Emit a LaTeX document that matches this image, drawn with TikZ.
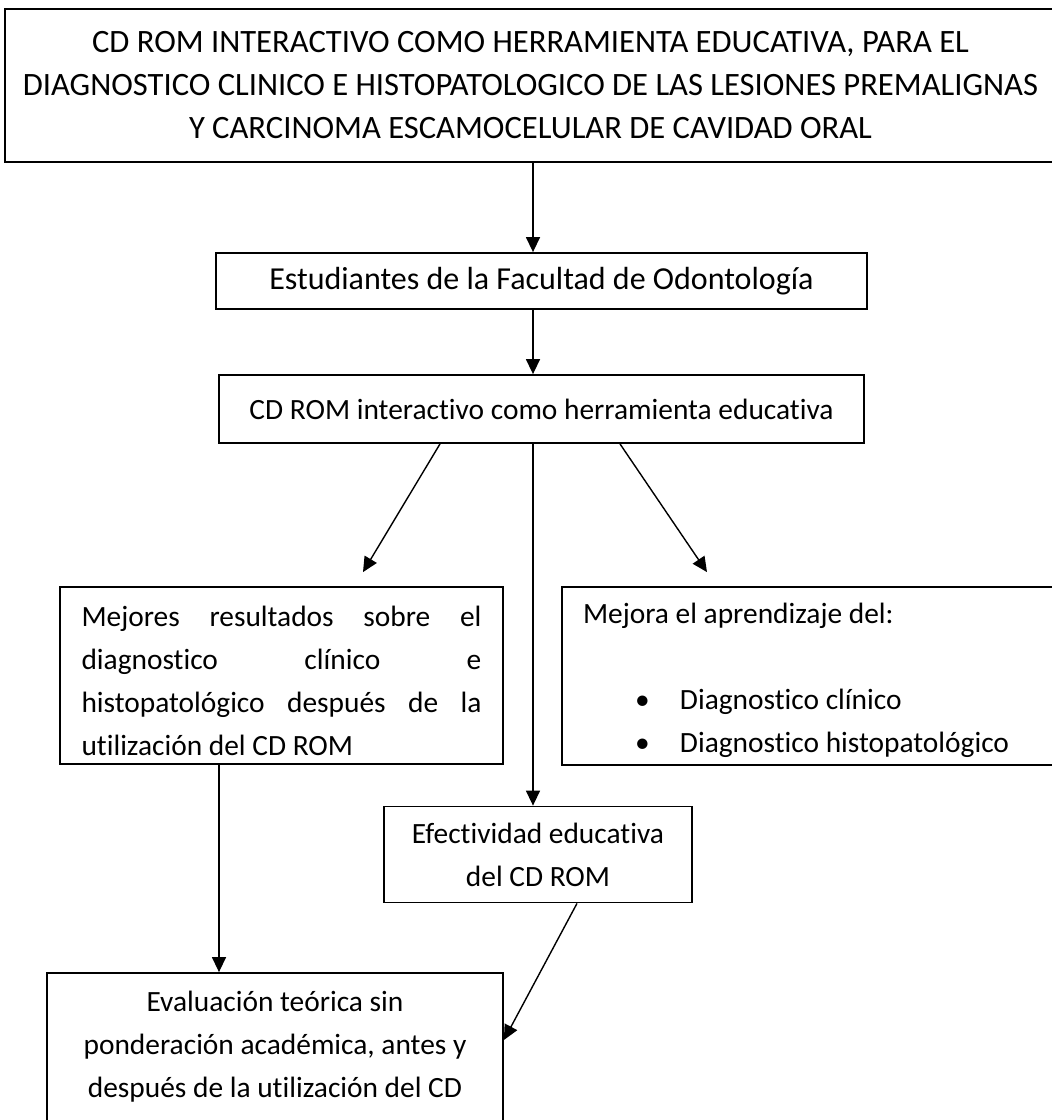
\documentclass[tikz,border=0pt]{standalone}
\usepackage{fontspec}
\setmainfont{Carlito}[Ligatures=NoCommon]
\usetikzlibrary{arrows.meta,calc}
\begin{document}
\begin{tikzpicture}[x=1pt, y=-1pt,
  caja/.style={draw, line width=1.8pt, inner sep=0pt, font=\fontsize{29.4}{43}\selectfont},
  flecha/.style={line width=1.4pt, -{Triangle[length=15pt,width=14pt]}}]
\useasboundingbox (0,0) rectangle (1052,1120);
\coordinate (eje) at (533,0);
% titulo
\node[caja, minimum width=1051pt, minimum height=153pt, align=center, font=\fontsize{32.6}{43}\selectfont] (tit) at (530.5,85.5)
  {CD ROM INTERACTIVO COMO HERRAMIENTA EDUCATIVA, PARA EL\\
   DIAGNOSTICO CLINICO E HISTOPATOLOGICO DE LAS LESIONES PREMALIGNAS\\
   Y CARCINOMA ESCAMOCELULAR DE CAVIDAD ORAL};
% estudiantes
\node[caja, minimum width=651pt, minimum height=56pt, font=\fontsize{32}{43}\selectfont] (est) at (541.5,281) {Estudiantes de la Facultad de Odontología};
% cd rom
\node[caja, minimum width=645pt, minimum height=68pt] (cd) at (541.5,409) {CD ROM interactivo como herramienta educativa};
% resultados (justificado a mano)
\node[caja, text width=400pt, inner xsep=21.5pt, minimum height=177pt, align=flush left] (mej) at (281.5,675.5)
  {\rule{0pt}{31pt}\makebox[400pt][s]{Mejores\hfill resultados\hfill sobre\hfill el}\\
   \makebox[400pt][s]{diagnostico\hfill clínico\hfill e}\\
   \makebox[400pt][s]{histopatológico\hfill después\hfill de\hfill la}\\
   utilización del CD ROM};
% aprendizaje
\node[caja, text width=452pt, inner xsep=21pt, minimum height=178pt, align=flush left] (apr) at (809,676)
  {\rule{0pt}{29pt}Mejora el aprendizaje del:\\
   \mbox{}\\
   \hspace*{52pt}\makebox[45pt][l]{•}Diagnostico clínico\\
   \hspace*{52pt}\makebox[45pt][l]{•}Diagnostico histopatológico};
% efectividad
\node[caja, minimum width=308pt, minimum height=96pt, align=center] (efe) at (538,854.5) {Efectividad educativa\\del CD ROM};
% evaluacion
\node[caja, minimum width=456pt, minimum height=186pt, align=center] (eva) at (275,1066)
  {Evaluación teórica sin\\ponderación académica, antes y\\después de la utilización del CD\\\mbox{}};
% flechas
\draw[flecha] (tit.south -| eje) -- (est.north -| eje);
\draw[flecha] (est.south -| eje) -- (cd.north -| eje);
\draw[flecha] ($(cd.south)+(-101.5,0)$) -- ($(mej.north)+(81.5,-14)$);
\draw[flecha] ($(cd.south)+(78.5,0)$) -- ($(apr.north)+(-102,-14)$);
\draw[flecha] (cd.south -| eje) -- (efe.north -| eje);
\draw[flecha] ($(mej.south)+(-62.5,0)$) coordinate (m1) -- (m1 |- eva.north);
\draw[flecha] ($(efe.south)+(39,0)$) -- ($(eva.east)+(0,-26)$);
\end{tikzpicture}
\end{document}
